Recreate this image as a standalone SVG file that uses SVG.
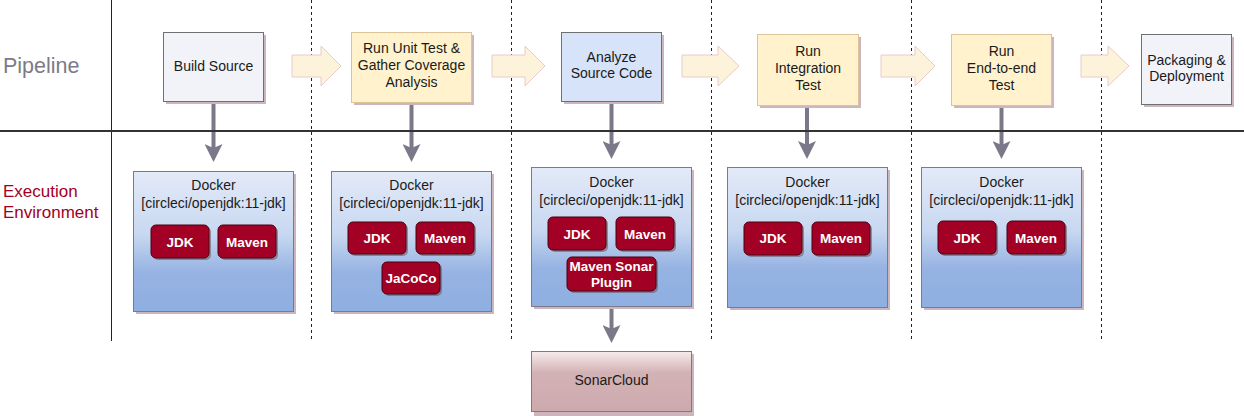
<svg xmlns="http://www.w3.org/2000/svg" width="1244" height="416" viewBox="0 0 1244 416">
<style>
text{font-family:"Liberation Sans",Arial,sans-serif;fill:#1a1a1a;font-size:14px;text-anchor:middle}
.lane{stroke:#222;stroke-width:1;fill:none}
.dash{stroke-dasharray:3 3}
.shadow{fill:#cdb5bd}
.gray{fill:#f2f3f8;stroke:#707070;stroke-width:1}
.yellow{fill:#fff2cc;stroke:#dcc39a;stroke-width:1}
.blue{fill:#d6e3f8;stroke:#707070;stroke-width:1}
.docker{fill:url(#dockerGrad);stroke:#7a7a8a;stroke-width:1}
.sonar{fill:url(#sonarGrad);stroke:#7a7a8a;stroke-width:1}
.tool{fill:#a20025;stroke:#4a0010;stroke-width:1}
.toolsh{fill:#6a5058;opacity:0.55}
.tooltxt{fill:#fff;font-weight:bold;font-size:13.5px}
.barrow{fill:#fdf3da;stroke:#e8cccc;stroke-width:1}
.conn{stroke:#7a7889;stroke-width:4;fill:none;marker-end:url(#head)}
.lbl{text-anchor:start}
</style>
<defs>
<linearGradient id="dockerGrad" x1="0" y1="0" x2="0" y2="1">
<stop offset="0" stop-color="#e3eaf8"/>
<stop offset="0.45" stop-color="#c8d8f1"/>
<stop offset="0.72" stop-color="#96b3e2"/>
<stop offset="1" stop-color="#8eafe1"/>
</linearGradient>
<linearGradient id="sonarGrad" x1="0" y1="0" x2="0" y2="1">
<stop offset="0" stop-color="#f6ecec"/>
<stop offset="0.35" stop-color="#d3b2b5"/>
<stop offset="1" stop-color="#cda9ad"/>
</linearGradient>
<marker id="head" markerUnits="userSpaceOnUse" viewBox="0 0 18 18" markerWidth="18" markerHeight="18" refX="8" refY="9" orient="auto">
<path d="M0,0 L18,9 L0,18 L4,9 Z" fill="#7a7889"/>
</marker>
</defs>

<g id="lanes">
<line class="lane" x1="111.5" y1="0" x2="111.5" y2="341"/>
<line class="lane dash" x1="311.5" y1="0" x2="311.5" y2="341"/>
<line class="lane dash" x1="511.5" y1="0" x2="511.5" y2="341"/>
<line class="lane dash" x1="711.5" y1="0" x2="711.5" y2="341"/>
<line class="lane dash" x1="911.5" y1="0" x2="911.5" y2="341"/>
<line class="lane dash" x1="1101.5" y1="0" x2="1101.5" y2="341"/>
</g>

<g id="labels">
<text class="lbl" x="3" y="73" style="font-size:21.5px;fill:#7d7a88">Pipeline</text>
<text class="lbl" x="3" y="197" style="font-size:17px;fill:#a20025">Execution</text>
<text class="lbl" x="3" y="218" style="font-size:17px;fill:#a20025">Environment</text>
</g>

<g id="block-arrows">
<polygon class="barrow" points="292,55 321,55 321,46 341,66 321,86 321,77 292,77"/>
<polygon class="barrow" points="492,55 525,55 525,46 545,66 525,86 525,77 492,77"/>
<polygon class="barrow" points="682,55 718,55 718,46 739,66 718,86 718,77 682,77"/>
<polygon class="barrow" points="881,55 915,55 915,46 935,66 915,86 915,77 881,77"/>
<polygon class="barrow" points="1081,55 1108,55 1108,46 1129,66 1108,86 1108,77 1081,77"/>
</g>

<g id="connectors">
<line class="conn" x1="213.5" y1="102" x2="213.5" y2="152"/>
<line class="conn" x1="411.5" y1="102" x2="411.5" y2="152"/>
<line class="conn" x1="611.5" y1="102" x2="611.5" y2="149"/>
<line class="conn" x1="807" y1="106" x2="807" y2="149"/>
<line class="conn" x1="1001.5" y1="106" x2="1001.5" y2="149"/>
<line class="conn" x1="611.5" y1="292" x2="611.5" y2="333"/>
</g>

<line id="divider" x1="0" y1="131" x2="1244" y2="131" stroke="#333" stroke-width="2"/>

<g id="build-source">
<rect class="shadow" x="166" y="35" width="100" height="69"/>
<rect class="gray" x="163.5" y="32.5" width="100" height="69"/>
<text x="213.5" y="71">Build Source</text>
</g>
<g id="unit-test">
<rect class="shadow" x="354" y="35" width="120" height="70"/>
<rect class="yellow" x="351.5" y="32.5" width="120" height="70"/>
<text x="411.5" y="53">Run Unit Test &amp;</text>
<text x="411.5" y="70">Gather Coverage</text>
<text x="411.5" y="87">Analysis</text>
</g>
<g id="analyze">
<rect class="shadow" x="564" y="35" width="100" height="69"/>
<rect class="blue" x="561.5" y="32.5" width="100" height="69"/>
<text x="611.5" y="62">Analyze</text>
<text x="611.5" y="78">Source Code</text>
</g>
<g id="integration">
<rect class="shadow" x="760" y="37" width="101" height="71"/>
<rect class="yellow" x="757.5" y="34.5" width="101" height="71"/>
<text x="808" y="56">Run</text>
<text x="808" y="73">Integration</text>
<text x="808" y="90">Test</text>
</g>
<g id="e2e">
<rect class="shadow" x="954" y="37" width="100" height="71"/>
<rect class="yellow" x="951.5" y="34.5" width="100" height="71"/>
<text x="1001.5" y="56">Run</text>
<text x="1001.5" y="73">End-to-end</text>
<text x="1001.5" y="90">Test</text>
</g>
<g id="packaging">
<rect class="shadow" x="1144" y="37" width="90" height="70"/>
<rect class="gray" x="1141.5" y="34.5" width="90" height="70"/>
<text x="1186.5" y="65">Packaging &amp;</text>
<text x="1186.5" y="81">Deployment</text>
</g>

<g id="docker1">
<rect class="shadow" x="136" y="174" width="160" height="140"/>
<rect class="docker" x="133.5" y="171.5" width="160" height="140"/>
<text x="213.5" y="190">Docker</text>
<text x="213.5" y="208">[circleci/openjdk:11-jdk]</text>
<rect class="toolsh" x="153" y="227" width="58" height="33" rx="5"/>
<rect class="tool" x="151" y="225" width="58" height="33" rx="5"/>
<text class="tooltxt" x="180" y="246.5">JDK</text>
<rect class="toolsh" x="220" y="227" width="58" height="33" rx="5"/>
<rect class="tool" x="218" y="225" width="58" height="33" rx="5"/>
<text class="tooltxt" x="247" y="246.5">Maven</text>
</g>

<g id="docker2">
<rect class="shadow" x="334" y="174" width="160" height="140"/>
<rect class="docker" x="331.5" y="171.5" width="160" height="140"/>
<text x="411.5" y="190">Docker</text>
<text x="411.5" y="208">[circleci/openjdk:11-jdk]</text>
<rect class="toolsh" x="350" y="224" width="58" height="32" rx="5"/>
<rect class="tool" x="348" y="222" width="58" height="32" rx="5"/>
<text class="tooltxt" x="377" y="243">JDK</text>
<rect class="toolsh" x="418" y="224" width="58" height="32" rx="5"/>
<rect class="tool" x="416" y="222" width="58" height="32" rx="5"/>
<text class="tooltxt" x="445" y="243">Maven</text>
<rect class="toolsh" x="384" y="264" width="58" height="32" rx="5"/>
<rect class="tool" x="382" y="262" width="58" height="32" rx="5"/>
<text class="tooltxt" x="411" y="283">JaCoCo</text>
</g>

<g id="docker3">
<rect class="shadow" x="534" y="170" width="160" height="139"/>
<rect class="docker" x="531.5" y="167.5" width="160" height="139"/>
<text x="611.5" y="187">Docker</text>
<text x="611.5" y="205">[circleci/openjdk:11-jdk]</text>
<rect class="toolsh" x="550" y="219" width="58" height="33" rx="5"/>
<rect class="tool" x="548" y="217" width="58" height="33" rx="5"/>
<text class="tooltxt" x="577" y="238.5">JDK</text>
<rect class="toolsh" x="618" y="219" width="58" height="33" rx="5"/>
<rect class="tool" x="616" y="217" width="58" height="33" rx="5"/>
<text class="tooltxt" x="645" y="238.5">Maven</text>
<rect class="toolsh" x="569" y="259" width="89" height="34" rx="5"/>
<rect class="tool" x="567" y="257" width="89" height="34" rx="5"/>
<text class="tooltxt" x="611.5" y="271">Maven Sonar</text>
<text class="tooltxt" x="611.5" y="286.5">Plugin</text>
</g>

<g id="docker4">
<rect class="shadow" x="730" y="170" width="160" height="140"/>
<rect class="docker" x="727.5" y="167.5" width="160" height="140"/>
<text x="807.5" y="187">Docker</text>
<text x="807.5" y="205">[circleci/openjdk:11-jdk]</text>
<rect class="toolsh" x="746" y="224" width="58" height="33" rx="5"/>
<rect class="tool" x="744" y="222" width="58" height="33" rx="5"/>
<text class="tooltxt" x="773" y="243">JDK</text>
<rect class="toolsh" x="814" y="224" width="58" height="33" rx="5"/>
<rect class="tool" x="812" y="222" width="58" height="33" rx="5"/>
<text class="tooltxt" x="841" y="243">Maven</text>
</g>

<g id="docker5">
<rect class="shadow" x="924" y="170" width="160" height="140"/>
<rect class="docker" x="921.5" y="167.5" width="160" height="140"/>
<text x="1001.5" y="187">Docker</text>
<text x="1001.5" y="205">[circleci/openjdk:11-jdk]</text>
<rect class="toolsh" x="940" y="223" width="58" height="33" rx="5"/>
<rect class="tool" x="938" y="221" width="58" height="33" rx="5"/>
<text class="tooltxt" x="967" y="242.5">JDK</text>
<rect class="toolsh" x="1009" y="223" width="58" height="33" rx="5"/>
<rect class="tool" x="1007" y="221" width="58" height="33" rx="5"/>
<text class="tooltxt" x="1036" y="242.5">Maven</text>
</g>

<g id="sonarcloud">
<rect class="shadow" x="534" y="354" width="160" height="62"/>
<rect class="sonar" x="531.5" y="351.5" width="160" height="60"/>
<text x="611.5" y="385">SonarCloud</text>
</g>
</svg>
